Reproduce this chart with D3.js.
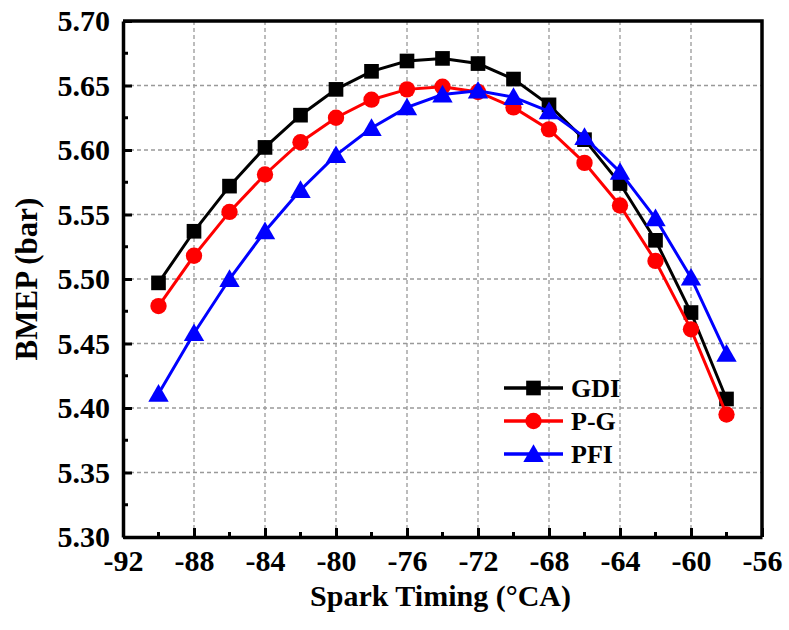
<!DOCTYPE html>
<html lang="en">
<head>
<meta charset="UTF-8">
<title>BMEP vs Spark Timing</title>
<script src="https://d3js.org/d3.v7.min.js"></script>
<style>
    body { margin: 0; background: #fff; }
</style>
</head>
<body>
<div id="chart"></div>
<script>
    const sparkTiming = [-90, -88, -86, -84, -82, -80, -78, -76, -74, -72, -70, -68, -66, -64, -62, -60, -58];
    const gdi = [5.497, 5.537, 5.572, 5.602, 5.627, 5.647, 5.661, 5.669, 5.671, 5.667, 5.655, 5.635, 5.608, 5.574, 5.530, 5.474, 5.407];
    const pg  = [5.479, 5.518, 5.552, 5.581, 5.606, 5.625, 5.639, 5.647, 5.649, 5.645, 5.633, 5.616, 5.590, 5.557, 5.514, 5.461, 5.395];
    const pfi = [5.411, 5.458, 5.500, 5.537, 5.569, 5.596, 5.617, 5.633, 5.643, 5.646, 5.641, 5.630, 5.610, 5.583, 5.547, 5.501, 5.442];
    const xTicks = [-92, -88, -84, -80, -76, -72, -68, -64, -60, -56];
    const yTicks = [5.30, 5.35, 5.40, 5.45, 5.50, 5.55, 5.60, 5.65, 5.70];

    const series = [
        { name: "GDI", values: gdi, color: "#000000", shape: d3.symbolSquare, size: 215 },
        { name: "P-G", values: pg, color: "#ff0000", shape: d3.symbolCircle, size: 210 },
        { name: "PFI", values: pfi, color: "#0000ff", shape: d3.symbolTriangle, size: 180 }
    ];

    const FONT = "'Liberation Serif', 'Times New Roman', serif";
    const W = 789, H = 630;
    const margin = { top: 21, right: 27, bottom: 93, left: 123 };
    const width = W - margin.left - margin.right;
    const height = H - margin.top - margin.bottom;

    const svg = d3.select("#chart").append("svg")
        .attr("width", W)
        .attr("height", H);
    const g = svg.append("g")
        .attr("transform", `translate(${margin.left},${margin.top})`);

    const x = d3.scaleLinear().domain([-92, -56]).range([0, width]);
    const y = d3.scaleLinear().domain([5.30, 5.70]).range([height, 0]);

    // grid
    g.append("g").selectAll("line")
        .data(xTicks.slice(1, -1)).enter().append("line")
        .attr("x1", d => x(d)).attr("x2", d => x(d))
        .attr("y1", 0).attr("y2", height)
        .attr("stroke", "#999").attr("stroke-width", 1.3).attr("stroke-dasharray", "4,3");
    g.append("g").selectAll("line")
        .data(yTicks.slice(1, -1)).enter().append("line")
        .attr("x1", 0).attr("x2", width)
        .attr("y1", d => y(d)).attr("y2", d => y(d))
        .attr("stroke", "#999").attr("stroke-width", 1.3).attr("stroke-dasharray", "4,3");

    // axes (plain hyphen for negatives, like the original)
    const xAxis = g.append("g")
        .attr("transform", `translate(0,${height})`)
        .call(d3.axisBottom(x).tickValues(xTicks).tickFormat(d => String(d)).tickSizeInner(-9).tickSizeOuter(0).tickPadding(13));
    xAxis.append("g").selectAll("line")
        .data(d3.range(-90, -56, 4)).enter().append("line")
        .attr("x1", d => x(d)).attr("x2", d => x(d))
        .attr("y1", 0).attr("y2", -5)
        .attr("stroke", "#000").attr("stroke-width", 3);

    const yAxis = g.append("g")
        .call(d3.axisLeft(y).tickValues(yTicks).tickFormat(d3.format(".2f")).tickSizeInner(-9).tickSizeOuter(0).tickPadding(13));
    yAxis.append("g").selectAll("line")
        .data(d3.range(5.325, 5.70, 0.05)).enter().append("line")
        .attr("x1", 0).attr("x2", 5)
        .attr("y1", d => y(d)).attr("y2", d => y(d))
        .attr("stroke", "#000").attr("stroke-width", 3);

    [xAxis, yAxis].forEach(a => a
        .attr("font-family", FONT)
        .attr("font-size", 30)
        .attr("font-weight", "bold"));
    g.selectAll(".domain").attr("stroke", "#000").attr("stroke-width", 3.5);
    g.selectAll(".tick line").attr("stroke", "#000").attr("stroke-width", 3);
    g.selectAll(".tick text").attr("fill", "#000");

    // frame top/right
    g.append("path")
        .attr("d", `M0,0H${width}V${height}`)
        .attr("fill", "none").attr("stroke", "#000").attr("stroke-width", 3.5);

    // series
    const line = d3.line()
        .x((d, i) => x(sparkTiming[i]))
        .y(d => y(d));

    series.forEach(s => {
        g.append("path")
            .datum(s.values)
            .attr("d", line)
            .attr("fill", "none")
            .attr("stroke", s.color)
            .attr("stroke-width", 3);
        g.append("g").selectAll("path")
            .data(s.values).enter().append("path")
            .attr("transform", (d, i) => `translate(${x(sparkTiming[i])},${y(d) + (s.shape === d3.symbolTriangle ? 2 : 0)})`)
            .attr("d", d3.symbol().type(s.shape).size(s.size))
            .attr("fill", s.color);
    });

    // legend
    const legend = g.append("g")
        .attr("font-family", FONT)
        .attr("font-size", 26)
        .attr("font-weight", "bold")
        .attr("transform", `translate(${504 - margin.left},${388 - margin.top})`);
    series.forEach((s, i) => {
        const row = legend.append("g").attr("transform", `translate(0,${i * 33})`);
        row.append("line")
            .attr("x1", 0).attr("x2", 59).attr("y1", 0).attr("y2", 0)
            .attr("stroke", s.color).attr("stroke-width", 3.5);
        row.append("path")
            .attr("transform", `translate(29.5,${s.shape === d3.symbolTriangle ? 2 : 0})`)
            .attr("d", d3.symbol().type(s.shape).size(s.size))
            .attr("fill", s.color);
        row.append("text")
            .attr("x", 67).attr("y", 0).attr("dy", "0.35em")
            .text(s.name);
    });

    // axis titles
    svg.append("text")
        .attr("font-family", FONT).attr("font-size", 30).attr("font-weight", "bold")
        .attr("text-anchor", "middle")
        .attr("x", margin.left + width / 2 - 2)
        .attr("y", 606)
        .text("Spark Timing (°CA)");
    svg.append("text")
        .attr("font-family", FONT).attr("font-size", 31).attr("font-weight", "bold")
        .attr("text-anchor", "middle")
        .attr("transform", `translate(37,${margin.top + height / 2}) rotate(-90)`)
        .text("BMEP (bar)");
</script>
</body>
</html>
